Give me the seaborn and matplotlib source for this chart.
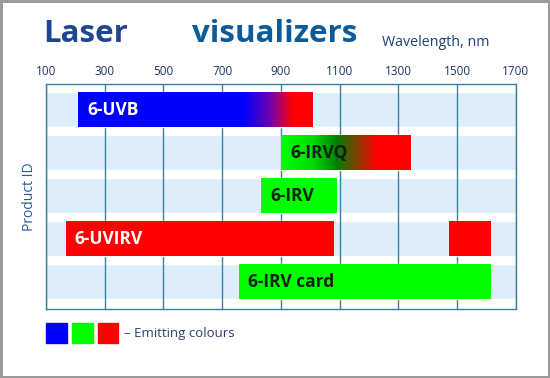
import numpy as np
import matplotlib
matplotlib.use("Agg")
import matplotlib.pyplot as plt
from matplotlib.colors import LinearSegmentedColormap
import seaborn as sns

# products, top to bottom
products = ["6-UVB", "6-IRVQ", "6-IRV", "6-UVIRV", "6-IRV card"]
# emitting ranges in nm (6-UVIRV has two segments)
segments = [
    [(210, 1008)],
    [(902, 1344)],
    [(833, 1090)],
    [(168, 1078), (1474, 1614)],
    [(758, 1614)],
]
# colour stops along each bar: (wavelength nm, colour)
colour_stops = [
    [(210, "#0000ff"), (775, "#0000ff"), (870, "#7a00a8"), (940, "#ff0000"), (1008, "#ff0000")],
    [(902, "#00ff00"), (1010, "#00dd00"), (1090, "#008000"), (1228, "#ff0000"), (1344, "#ff0000")],
    [(833, "#00ff00"), (1090, "#00ff00")],
    [(168, "#ff0000"), (1614, "#ff0000")],
    [(758, "#00ff00"), (1614, "#00ff00")],
]
label_colours = ["white", "#102010", "#102010", "white", "#102010"]
ticks = [100, 300, 500, 700, 900, 1100, 1300, 1500, 1700]
legend_colours = ["#0000ff", "#00ff00", "#ff0000"]

sns.set_theme(style="white")
plt.rcParams["font.family"] = ["Open Sans", "DejaVu Sans"]

W, H = 550, 378
fig = plt.figure(figsize=(W / 100, H / 100), dpi=100)
fig.patch.set_facecolor("white")
fig.patch.set_edgecolor("#9a9a9a")
fig.patch.set_linewidth(2.5)

ax = fig.add_axes([46 / W, 1 - 309.3 / H, 469.7 / W, 225.6 / H])

frame_col = "#3b7fa3"
band_h = 0.813
y = np.arange(len(products))

# light-blue row bands
ax.barh(y, 1600, left=100, height=band_h, color="#ddeefa", zorder=0)
for t in ticks:
    ax.axvline(t, color=frame_col, lw=1.0, zorder=1)

for i, segs in enumerate(segments):
    stops = colour_stops[i]
    x0, x1 = stops[0][0], stops[-1][0]
    pos = [(s[0] - x0) / (x1 - x0) for s in stops]
    cmap = LinearSegmentedColormap.from_list(products[i], list(zip(pos, [s[1] for s in stops])))
    for (a, b) in segs:
        bar = ax.barh(i, b - a, left=a, height=band_h, color="none", zorder=2)[0]
        img = ax.imshow(np.linspace(0, 1, 256).reshape(1, -1), cmap=cmap, aspect="auto",
                        extent=[x0, x1, i + band_h / 2, i - band_h / 2], zorder=2,
                        interpolation="bilinear")
        img.set_clip_path(bar)
    ax.text(segs[0][0] + 30, i + 0.02, products[i], color=label_colours[i],
            fontsize=12.5, fontweight="bold", va="center", ha="left", zorder=3)

ax.set_xlim(100, 1700)
ax.set_ylim(4.646, -0.595)
ax.set_aspect("auto")
ax.set_yticks([])
ax.set_xticks(ticks)
ax.xaxis.tick_top()
ax.tick_params(axis="x", length=0, pad=4, labelsize=8.5, labelcolor="#1d3566")
for s in ax.spines.values():
    s.set_color(frame_col)
    s.set_linewidth(1.0)
ax.set_ylabel("Product ID", fontsize=10, color="#2a5a9a")
ax.yaxis.set_label_coords(-0.02, 0.5)

# title
fig.text(43 / W, 1 - 34 / H, "Laser", fontsize=22.5, fontweight="bold", color="#1f4690",
         va="center", ha="left")
fig.text(192 / W, 1 - 34 / H, "visualizers", fontsize=22.5, fontweight="bold", color="#0b5b9b",
         va="center", ha="left")
fig.text(382 / W, 1 - 43 / H, "Wavelength, nm", fontsize=10.3, color="#1d3f7a",
         va="center", ha="left")

# legend squares
for k, c in enumerate(legend_colours):
    fig.patches.append(plt.Rectangle(((46 + k * 25.8) / W, 1 - 343.3 / H), 20.8 / W, 20.6 / H,
                                     transform=fig.transFigure, color=c, figure=fig))
fig.text(124 / W, 1 - 334 / H, "\u2013 Emitting colours", fontsize=9.5, color="#2c3e6e",
         va="center", ha="left")

fig.savefig("out.png", dpi=100, edgecolor=fig.get_edgecolor())
